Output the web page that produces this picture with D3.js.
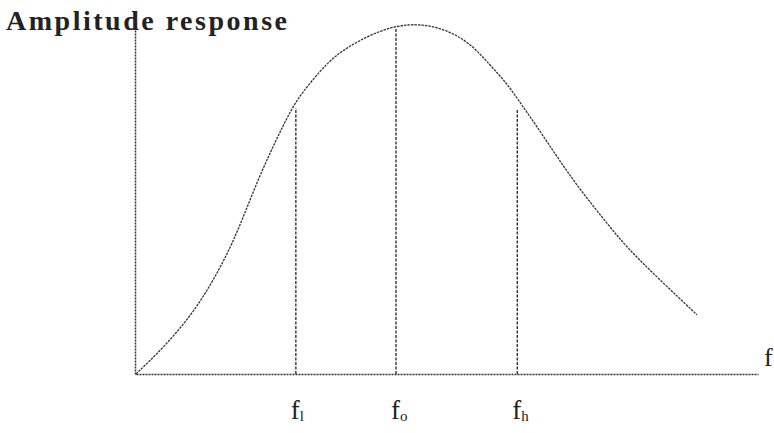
<!DOCTYPE html>
<html>
<head>
<meta charset="utf-8">
<script src="https://cdn.jsdelivr.net/npm/d3@7"></script>
<style>
  body { margin: 0; background: #fff; }
  svg { display: block; }
  .lbl { font-family: "Liberation Serif", "DejaVu Serif", serif; fill: #222; }
</style>
</head>
<body>
<div id="chart"></div>
<script>
// curve (frequency in arbitrary units, amplitude normalised)
var freq = [0, 4.34, 8.68, 11.9, 14.6, 16.7, 19.9, 23.2, 25.2, 26.8, 29.6, 32.0, 34.4, 37.6, 42.0,
            46.1, 50.0, 53.7, 56.9, 59.6, 61.7, 64.5, 67.7, 71.4, 76.2, 78.9, 84.2, 90.2];
var amp = [0, 0.074, 0.163, 0.251, 0.34, 0.423, 0.569, 0.694, 0.763, 0.806, 0.866, 0.909, 0.937, 0.969, 0.997,
           1.0, 0.983, 0.946, 0.883, 0.831, 0.777, 0.706, 0.62, 0.526, 0.42, 0.362, 0.269, 0.169];

// marker frequencies and the heights their dashed lines reach
var markerNames = ["l", "o", "h"];
var markerFreq = [25.7, 41.8, 61.3];
var markerTop = [0.76, 0.986, 0.754];

var yTitle = "Amplitude response";
var xTitle = "f";

var width = 774, height = 433;
var margin = { top: 24, right: 16, bottom: 59, left: 136 };

var svg = d3.select("#chart").append("svg")
    .attr("width", width)
    .attr("height", height);

var x = d3.scaleLinear()
    .domain([0, 100])
    .range([margin.left, width - margin.right]);

var y = d3.scaleLinear()
    .domain([0, 1])
    .range([height - margin.bottom, margin.top]);

var ink = "#333";

// axes (no ticks, just the lines)
var xAxis = d3.axisBottom(x).tickValues([]).tickSizeOuter(0);
var yAxis = d3.axisLeft(y.copy().domain([0, 1.01])).tickValues([]).tickSizeOuter(0);

svg.append("g")
    .attr("transform", "translate(0," + y(0) + ")")
    .call(xAxis)
    .select(".domain")
    .attr("stroke", ink)
    .attr("stroke-width", 1.5)
    .attr("stroke-dasharray", "2,1");

svg.append("g")
    .attr("transform", "translate(" + (x(0) - 1) + ",0)")
    .call(yAxis)
    .select(".domain")
    .attr("stroke", ink)
    .attr("stroke-width", 1.5)
    .attr("stroke-dasharray", "2,1");

// dashed marker lines
svg.selectAll(".marker")
    .data(markerFreq)
    .enter().append("line")
    .attr("class", "marker")
    .attr("x1", d => x(d))
    .attr("x2", d => x(d))
    .attr("y1", y(0))
    .attr("y2", (d, i) => y(markerTop[i]))
    .attr("stroke", ink)
    .attr("stroke-width", 1.4)
    .attr("stroke-dasharray", "3,1.5");

// response curve (basis spline smooths out reading noise)
var pts = freq.map((f, i) => [f, amp[i]]);
var line = d3.line()
    .x(d => x(d[0]))
    .y(d => y(d[1]))
    .curve(d3.curveBasis);

svg.append("path")
    .datum(pts)
    .attr("d", line)
    .attr("fill", "none")
    .attr("stroke", ink)
    .attr("stroke-width", 1.3)
    .attr("stroke-dasharray", "2.5,1");

// marker labels f_l, f_o, f_h
var labels = svg.selectAll(".mlabel")
    .data(markerFreq)
    .enter().append("text")
    .attr("class", "lbl mlabel")
    .attr("x", d => x(d) - 5)
    .attr("y", 419)
    .attr("font-size", 27);
labels.append("tspan").text("f");
labels.append("tspan")
    .attr("font-size", 15)
    .attr("dy", 2)
    .text((d, i) => markerNames[i]);

// titles
svg.append("text")
    .attr("class", "lbl")
    .attr("x", 6)
    .attr("y", 30)
    .attr("font-size", 28)
    .attr("font-weight", "bold")
    .attr("textLength", 281)
    .attr("lengthAdjust", "spacing")
    .text(yTitle);

svg.append("text")
    .attr("class", "lbl")
    .attr("x", 764)
    .attr("y", 366)
    .attr("font-size", 26)
    .text(xTitle);
</script>
</body>
</html>
